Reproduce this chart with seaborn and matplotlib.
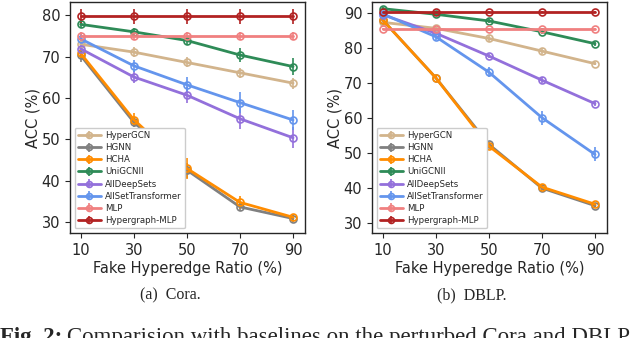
import matplotlib
matplotlib.use("Agg")
import matplotlib.pyplot as plt
import seaborn as sns
import numpy as np

ratios = [10, 30, 50, 70, 90]
methods = ["HyperGCN", "HGNN", "HCHA", "UniGCNII", "AllDeepSets",
           "AllSetTransformer", "MLP", "Hypergraph-MLP"]
colors = ["tan", "grey", "darkorange", "seagreen", "mediumpurple",
          "cornflowerblue", "lightcoral", "firebrick"]

cora_mean = {
    "HyperGCN": [73.0, 71.1, 68.6, 66.1, 63.6],
    "HGNN": [70.3, 54.2, 42.6, 33.7, 30.9],
    "HCHA": [70.8, 54.8, 43.0, 34.8, 31.2],
    "UniGCNII": [77.8, 76.0, 73.9, 70.4, 67.6],
    "AllDeepSets": [71.9, 65.1, 60.7, 55.0, 50.4],
    "AllSetTransformer": [74.3, 67.8, 63.2, 58.9, 54.7],
    "MLP": [75.0, 75.0, 75.0, 75.0, 75.0],
    "Hypergraph-MLP": [79.8, 79.8, 79.8, 79.8, 79.8],
}
cora_std = {
    "HyperGCN": [1.2, 1.2, 1.2, 1.2, 1.3],
    "HGNN": [1.5, 1.2, 1.8, 1.0, 0.8],
    "HCHA": [1.2, 1.5, 2.5, 1.5, 0.8],
    "UniGCNII": [0.8, 1.0, 1.2, 1.8, 2.0],
    "AllDeepSets": [1.0, 1.5, 2.0, 2.5, 2.5],
    "AllSetTransformer": [1.2, 1.5, 2.0, 2.5, 2.5],
    "MLP": [1.0, 1.0, 1.0, 1.0, 1.0],
    "Hypergraph-MLP": [1.8, 1.8, 1.8, 1.8, 1.8],
}
dblp_mean = {
    "HyperGCN": [87.3, 85.6, 82.7, 79.1, 75.5],
    "HGNN": [88.0, 71.5, 52.5, 40.0, 35.0],
    "HCHA": [88.0, 71.5, 52.0, 40.3, 35.4],
    "UniGCNII": [91.2, 89.6, 87.7, 84.6, 81.2],
    "AllDeepSets": [89.5, 84.2, 77.7, 70.8, 64.1],
    "AllSetTransformer": [89.7, 83.2, 73.1, 60.1, 49.6],
    "MLP": [85.5, 85.5, 85.5, 85.5, 85.5],
    "Hypergraph-MLP": [90.3, 90.3, 90.3, 90.3, 90.3],
}
dblp_std = {
    "HyperGCN": [0.5, 0.5, 1.0, 0.8, 0.5],
    "HGNN": [0.5, 0.5, 0.8, 0.5, 0.5],
    "HCHA": [0.8, 0.5, 0.5, 0.5, 0.5],
    "UniGCNII": [0.5, 0.5, 0.5, 0.5, 0.6],
    "AllDeepSets": [0.5, 0.5, 0.5, 0.8, 0.8],
    "AllSetTransformer": [0.5, 0.8, 1.5, 2.0, 2.0],
    "MLP": [0.3, 0.3, 0.3, 0.3, 0.3],
    "Hypergraph-MLP": [0.3, 0.3, 0.3, 0.3, 0.3],
}

sns.set_style("ticks")
plt.rcParams['font.family'] = ['DejaVu Sans']

fig = plt.figure(figsize=(6.4, 3.38), dpi=100)
W, H = 640, 338
ax1 = fig.add_axes([70 / W, (H - 233) / H, 235 / W, 231 / H])
ax2 = fig.add_axes([372 / W, (H - 233) / H, 235 / W, 231 / H])


def draw(ax, means, stds, ylim, yticks):
    for m, c in zip(methods, colors):
        ax.errorbar(ratios, means[m], yerr=stds[m], color=c, lw=2,
                    marker="o", ms=5, mfc="none", mew=1.2,
                    elinewidth=1.2, capsize=0, label=m)
    ax.set_xlim(6, 94.5)
    ax.set_ylim(*ylim)
    ax.set_xticks(ratios)
    ax.set_yticks(yticks)
    ax.tick_params(labelsize=10.5, length=3.5)
    ax.set_xlabel("Fake Hyperedge Ratio (%)", fontsize=10.5, labelpad=2)
    ax.set_ylabel("ACC (%)", fontsize=10.5, labelpad=1)
    ax.legend(loc="lower left", fontsize=6.2, handlelength=2.6,
              handletextpad=0.5, borderaxespad=0.55, labelspacing=0.36,
              framealpha=1, markerscale=0.85)
    for s in ax.spines.values():
        s.set_linewidth(1.0)


draw(ax1, cora_mean, cora_std, (27.4, 83.2), [30, 40, 50, 60, 70, 80])
draw(ax2, dblp_mean, dblp_std, (27.2, 93.1), [30, 40, 50, 60, 70, 80, 90])

fig.text(170 / W, 1 - 295 / H, "(a)  Cora.", ha="center", va="center",
         fontsize=11.5, family="Liberation Serif")
fig.text(472 / W, 1 - 295 / H, "(b)  DBLP.", ha="center", va="center",
         fontsize=11.5, family="Liberation Serif")
fig.text(0, 1 - 327 / H, "Fig. 2:", ha="left", va="top",
         fontsize=16.5, family="Liberation Serif", weight="bold")
fig.text(67 / W, 1 - 327 / H,
         "Comparision with baselines on the perturbed Cora and DBLP",
         ha="left", va="top", fontsize=16.5, family="Liberation Serif")

fig.savefig("out.png", dpi=100)
